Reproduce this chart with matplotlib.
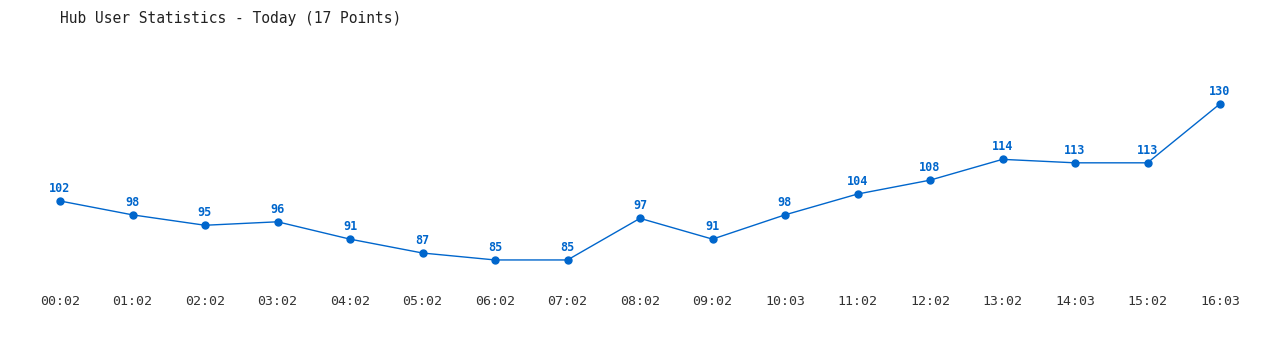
import matplotlib
matplotlib.use("Agg")
import matplotlib.pyplot as plt

# hourly user counts
times = ["00:02", "01:02", "02:02", "03:02", "04:02", "05:02", "06:02", "07:02",
         "08:02", "09:02", "10:03", "11:02", "12:02", "13:02", "14:03", "15:02", "16:03"]
users = [102, 98, 95, 96, 91, 87, 85, 85, 97, 91, 98, 104, 108, 114, 113, 113, 130]

blue = "#0066cc"
mono = "DejaVu Sans Mono"

fig = plt.figure(figsize=(12.8, 3.5), dpi=100)
ax = fig.add_axes([60 / 1280, 1 - 277.3 / 350, 1160 / 1280, (277.3 - 86.5) / 350])

x = list(range(len(users)))
ax.plot(x, users, color=blue, linewidth=1, marker="o", markersize=5, clip_on=False)

for xi, v in zip(x, users):
    ax.annotate(str(v), (xi, v), xytext=(0, 4.5), textcoords="offset points",
                ha="center", va="bottom", color=blue, fontsize=8.5,
                fontweight="bold", family=mono)

ax.set_xlim(0, 16)
ax.set_ylim(80, 135)
ax.set_xticks(x)
ax.set_xticklabels(times, family=mono, fontsize=9.5, color="#333333")
ax.tick_params(axis="x", length=0, pad=13)
ax.set_yticks([])
for s in ax.spines.values():
    s.set_visible(False)

fig.text(60 / 1280, 1 - 18 / 350, "Hub User Statistics - Today (17 Points)",
         family=mono, fontsize=10.5, va="center", ha="left", color="#222222")

fig.savefig("out.png", dpi=100)
